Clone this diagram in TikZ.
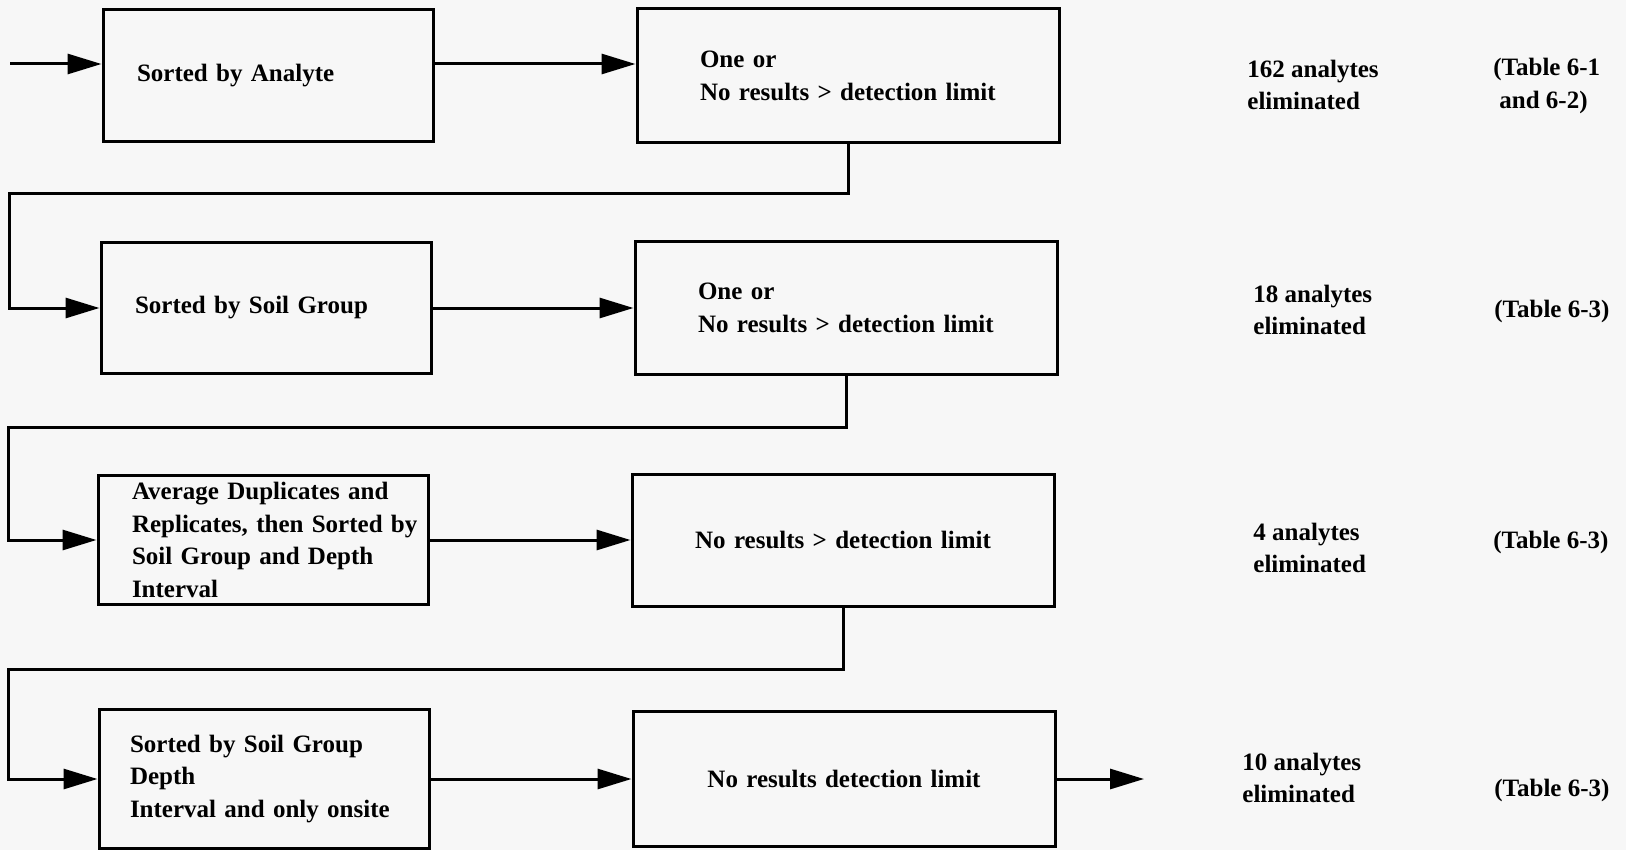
\documentclass[tikz,border=0pt]{standalone}
\usepackage{fontspec}
\setmainfont{Liberation Serif}
\usetikzlibrary{arrows.meta}
\definecolor{paper}{RGB}{247,247,247}
\newcommand{\flowfont}{\fontsize{12.5}{16.3}\selectfont\bfseries}
\newcommand{\oneline}[1]{\makebox[\linewidth][l]{#1}}

\begin{document}
\begin{tikzpicture}[x=0.5pt,y=-0.5pt,node distance=290pt,every node/.style={font=\flowfont}]
\tikzstyle{sortbox}=[draw,line width=1.5pt,align=left,text width=131pt,inner xsep=17pt,inner ysep=1pt]
\tikzstyle{checkbox}=[draw,line width=1.5pt,text width=148pt,inner xsep=31.5pt,inner ysep=1pt]
\tikzstyle{note}=[anchor=west,align=left,inner sep=0pt]
\tikzstyle{arrow}=[draw,line width=1.5pt,-{Triangle[length=17pt,width=10pt]}]
\fill[paper](0,0)rectangle(1626,850);
\useasboundingbox(0,0)rectangle(1626,850);

\node[sortbox,minimum height=66pt](sortA) at (268,76){Sorted by Analyte};
\node[checkbox,align=left,minimum height=67pt,right of=sortA](chk1){One or\\\oneline{No results > detection limit}};

\node[sortbox,minimum height=65pt](sortB) at (266,308){Sorted by Soil Group};
\node[checkbox,align=left,minimum height=66pt,right of=sortB](chk2){One or\\\oneline{No results > detection limit}};

\node[sortbox,minimum height=64.5pt](sortC) at (263,540){\oneline{Average Duplicates and}\\\oneline{Replicates, then Sorted by}\\Soil Group and Depth\\Interval};
\node[checkbox,align=center,minimum height=66pt,right of=sortC](chk3){\makebox[\linewidth]{No results > detection limit}};

\node[sortbox,minimum height=69.5pt,inner xsep=15.5pt,text width=134pt](sortD) at (264,779){Sorted by Soil Group\\Depth\\Interval and only onsite};
\node[checkbox,align=center,minimum height=67.5pt,right of=sortD](chk4){No results detection limit};

% results column
\node[note](elim1) at (1247,85){162 analytes\\eliminated};
\node[note](ref1) at (1493,86){(Table 6-1\\\hspace*{3pt}and 6-2)};
\node[note](elim2) at (1253,310){18 analytes\\eliminated};
\node[note](ref2) at (1494,311){(Table 6-3)};
\node[note](elim3) at (1253,548){4 analytes\\eliminated};
\node[note](ref3) at (1493,542){(Table 6-3)};
\node[note](elim4) at (1242,778){10 analytes\\eliminated};
\node[note](ref4) at (1494,790){(Table 6-3)};

\coordinate(start) at (10,64);
\coordinate(bend1) at (9,194);
\coordinate(bend2) at (8,427);
\coordinate(bend3) at (8,669);
\coordinate(finish) at (1144,779);

\path[arrow](start)--(start-|sortA.west);
\path[arrow](sortA.east|-start)--(chk1.west|-start);
\path[arrow](chk1.south)|-(bend1)|-(sortB.west);
\path[arrow](sortB)--(chk2);
\path[arrow](chk2.south)|-(bend2)|-(sortC.west);
\path[arrow](sortC)--(chk3);
\path[arrow](chk3.south)|-(bend3)|-(sortD.west);
\path[arrow](sortD)--(chk4);
\path[arrow](chk4)--(finish);
\end{tikzpicture}
\end{document}
